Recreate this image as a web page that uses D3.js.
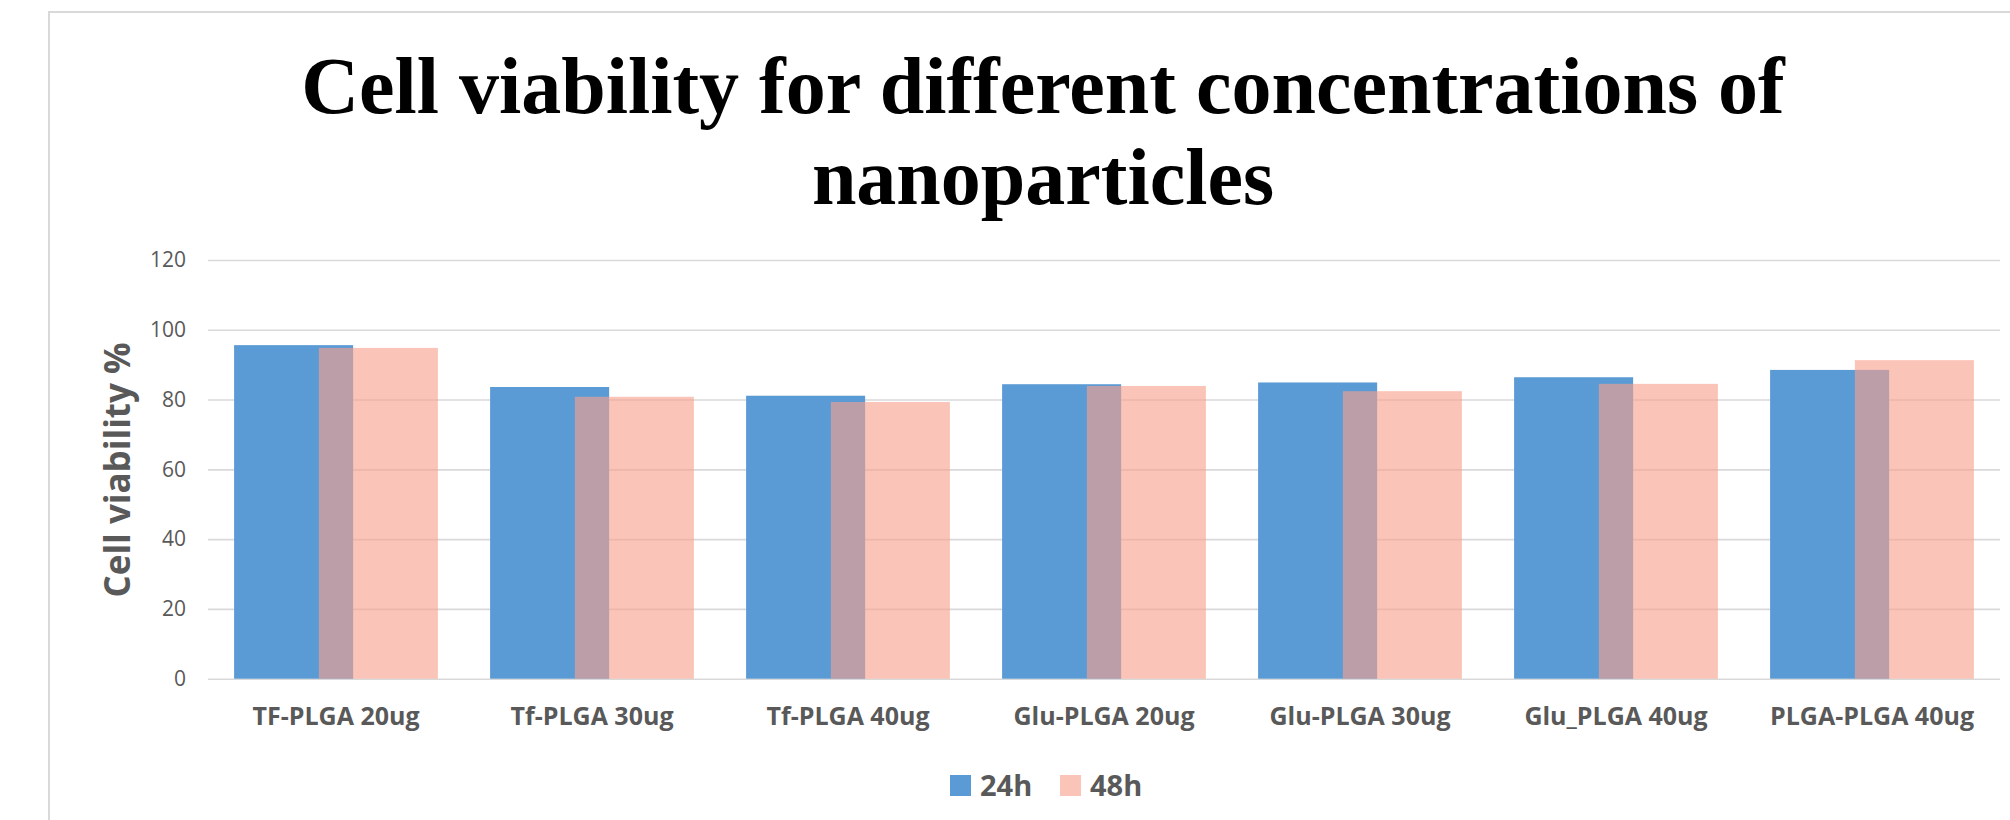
<!DOCTYPE html>
<html>
<head>
<meta charset="utf-8">
<script src="https://cdn.jsdelivr.net/npm/d3@7"></script>
<style>
  body { margin: 0; background: #fff; }
  svg { display: block; }
</style>
</head>
<body>
<figure id="bar" style="margin:0"></figure>
<script>
// data
const categories = ["TF-PLGA 20ug", "Tf-PLGA 30ug", "Tf-PLGA 40ug", "Glu-PLGA 20ug",
  "Glu-PLGA 30ug", "Glu_PLGA 40ug", "PLGA-PLGA 40ug"];
const series = ["24h", "48h"];
const values24h = [95.6, 83.6, 81.1, 84.4, 84.9, 86.4, 88.5];
const values48h = [94.8, 80.8, 79.3, 83.9, 82.4, 84.5, 91.3];
const yTicks = [0, 20, 40, 60, 80, 100, 120];
const titleLines = ["Cell viability for different concentrations of", "nanoparticles"];

const width = 2010, height = 820;
const colors = { "24h": "#5b9bd5", "48h": "rgba(248,159,140,0.62)" };
const textGray = "#595959";

const svg = d3.select("figure#bar")
  .append("svg")
  .attr("width", width)
  .attr("height", height);

// chart area border
svg.append("rect")
  .attr("x", 49).attr("y", 12)
  .attr("width", width).attr("height", height)
  .attr("fill", "none")
  .attr("stroke", "#d9d9d9")
  .attr("stroke-width", 2);

// title
svg.append("g").selectAll("text")
  .data(titleLines)
  .enter()
  .append("text")
  .attr("x", 1043)
  .attr("y", (d, i) => 113 + i * 91)
  .attr("text-anchor", "middle")
  .style("font-family", "'Liberation Serif', 'Times New Roman', serif")
  .style("font-weight", "bold")
  .style("font-size", "80px")
  .style("fill", "#000")
  .text(d => d);

// scales
const x = d3.scaleBand()
  .domain(categories)
  .range([208, 2000]);

const y = d3.scaleLinear()
  .domain([0, 120])
  .range([678.7, 260]);

// gridlines + y labels
const yAxis = svg.append("g")
  .attr("transform", "translate(208,0)")
  .call(d3.axisLeft(y).tickValues(yTicks).tickSize(-1792).tickPadding(22));
yAxis.select(".domain").remove();
yAxis.selectAll(".tick line")
  .attr("stroke", "#d9d9d9")
  .attr("stroke-width", 1.6);
yAxis.selectAll(".tick text")
  .style("font-family", "'Open Sans', sans-serif")
  .style("font-size", "21px")
  .style("fill", textGray);

// bars
const barW = x.bandwidth() * 0.465;
const shift = barW * 0.712;
const groupW = barW + shift;
const rows = categories.map((c, i) => ({ cat: c, "24h": values24h[i], "48h": values48h[i] }));

series.forEach((s, si) => {
  svg.append("g").selectAll("rect")
    .data(rows)
    .enter()
    .append("rect")
    .attr("x", d => x(d.cat) + (x.bandwidth() - groupW) / 2 + si * shift)
    .attr("y", d => y(d[s]))
    .attr("width", barW)
    .attr("height", d => y(0) - y(d[s]))
    .style("fill", colors[s]);
});

// category labels
const xAxis = svg.append("g")
  .attr("transform", "translate(0," + y(0) + ")")
  .call(d3.axisBottom(x).tickSize(0).tickPadding(0));
xAxis.select(".domain").remove();
xAxis.selectAll(".tick text")
  .attr("y", 46)
  .attr("dy", 0)
  .style("font-family", "'Open Sans', sans-serif")
  .style("font-weight", "bold")
  .style("font-size", "25px")
  .style("fill", textGray);

// y axis title
svg.append("text")
  .attr("transform", "translate(130,470) rotate(-90)")
  .attr("text-anchor", "middle")
  .style("font-family", "'Open Sans', sans-serif")
  .style("font-weight", "bold")
  .style("font-size", "35px")
  .style("fill", textGray)
  .text("Cell viability %");

// legend
const legendX = [950, 1060];
const legend = svg.append("g").selectAll("g")
  .data(series)
  .enter()
  .append("g")
  .attr("transform", (d, i) => "translate(" + legendX[i] + ",775)");
legend.append("rect")
  .attr("width", 21)
  .attr("height", 21)
  .style("fill", d => colors[d]);
legend.append("text")
  .attr("x", 30)
  .attr("y", 21)
  .style("font-family", "'Open Sans', sans-serif")
  .style("font-weight", "bold")
  .style("font-size", "29px")
  .style("fill", textGray)
  .text(d => d);
</script>
</body>
</html>
